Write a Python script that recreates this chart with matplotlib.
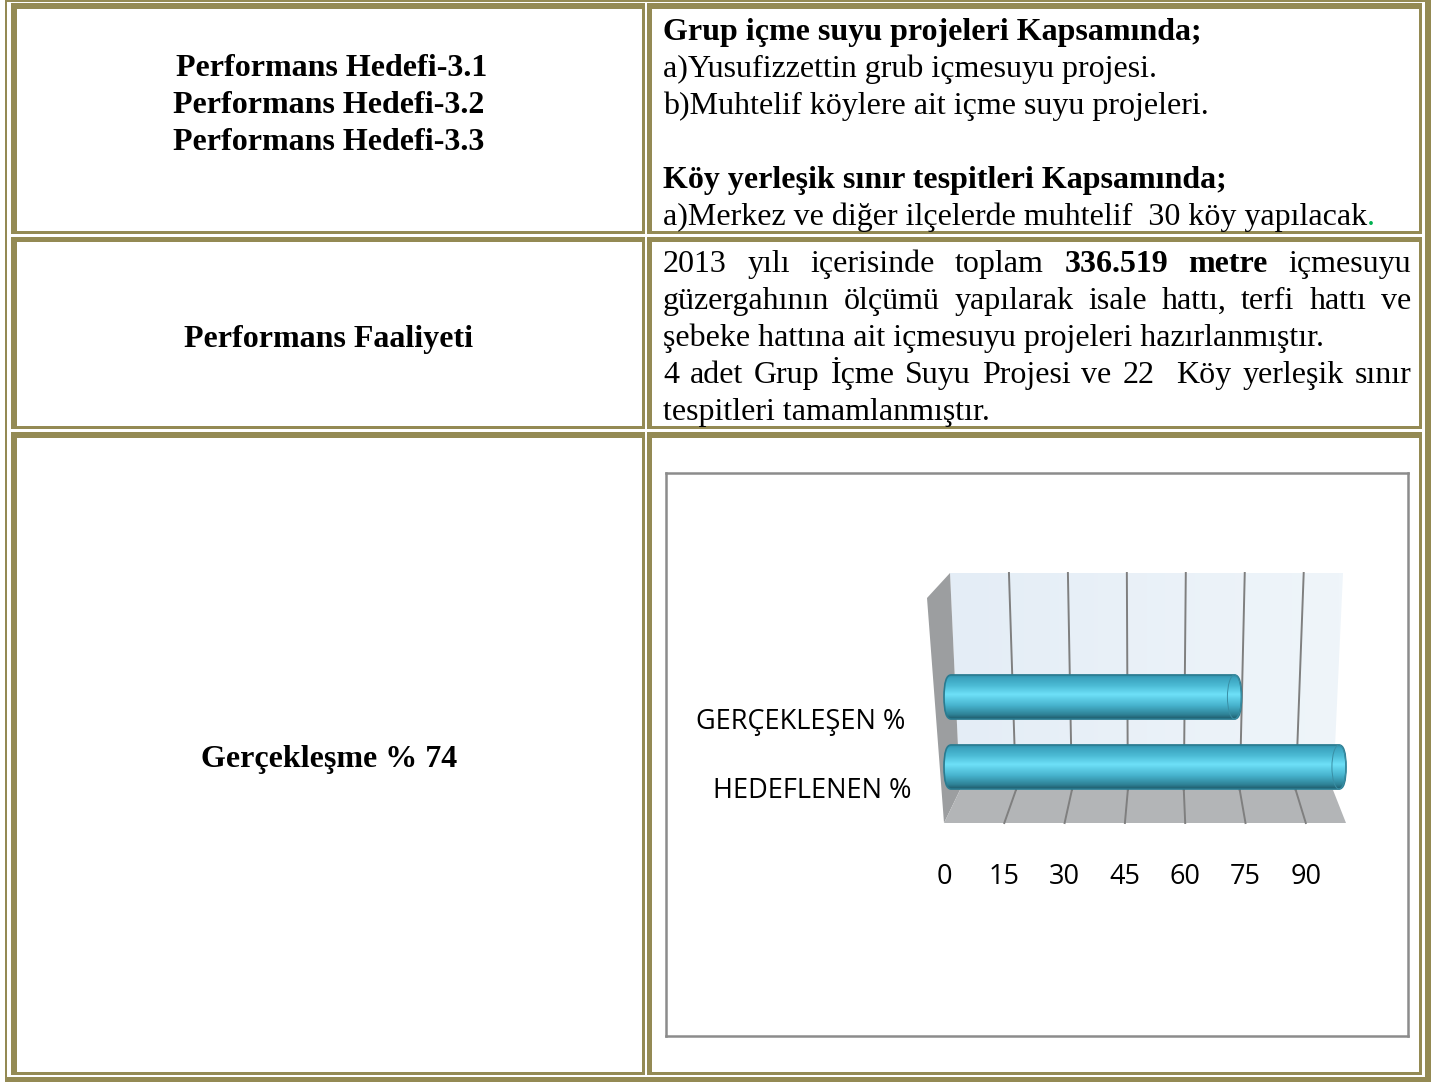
import matplotlib
matplotlib.use("Agg")
import matplotlib.pyplot as plt
import numpy as np
from matplotlib.patches import Rectangle, Polygon, FancyBboxPatch, Ellipse
from matplotlib.colors import LinearSegmentedColormap

# chart data
categories = ["HEDEFLENEN %", "GERÇEKLEŞEN %"]
values = [100, 74]
x_ticks = [0, 15, 30, 45, 60, 75, 90]
x_max = 100

# table text
goal_labels = ["Performans Hedefi-3.1", "Performans Hedefi-3.2", "Performans Hedefi-3.3"]
activity_label = "Performans Faaliyeti"
result_label = "Gerçekleşme % 74"

scope_lines = [
    ("Grup içme suyu projeleri Kapsamında;", "bold"),
    ("a)Yusufizzettin grub içmesuyu projesi.", "normal"),
    ("b)Muhtelif köylere ait içme suyu projeleri.", "normal"),
    ("", "normal"),
    ("Köy yerleşik sınır tespitleri Kapsamında;", "bold"),
    ("a)Merkez ve diğer ilçelerde muhtelif  30 köy yapılacak", "normal"),
]
# words prefixed with * are bold, second item = justified
activity_lines = [
    (["2013", "yılı", "içerisinde", "toplam", "*336.519", "*metre", "içmesuyu"], True),
    (["güzergahının", "ölçümü", "yapılarak", "isale", "hattı,", "terfi", "hattı", "ve"], True),
    (["şebeke hattına ait içmesuyu projeleri hazırlanmıştır."], False),
    (["4", "adet", "Grup", "İçme", "Suyu", "Projesi", "ve", "22", "", "Köy", "yerleşik", "sınır"], True),
    (["tespitleri tamamlanmıştır."], False),
]

W, H = 1437, 1082
OLIVE = "#948A54"
SERIF = "Liberation Serif"
FS = 23

fig = plt.figure(figsize=(W / 100, H / 100), dpi=100)
tab = fig.add_axes([0, 0, 1, 1])
tab.set_xlim(0, W)
tab.set_ylim(H, 0)
tab.axis("off")


def band(x0, x1, y0, y1, color=OLIVE, z=1):
    tab.add_patch(Rectangle((x0, y0), x1 - x0, y1 - y0, facecolor=color,
                           edgecolor="none", zorder=z))


# double borders of the table
for x0, x1, y0, y1 in [(5, 7, 0, 1082), (11, 17, 3, 1075), (642, 645, 3, 1075),
                       (647, 652, 3, 1075), (1419, 1422, 3, 1075), (1425, 1431, 0, 1082)]:
    band(x0, x1, y0, y1)
for y0, y1 in [(0, 1.5), (3, 9), (231, 234), (236.5, 242), (426, 429), (432, 438),
               (1072, 1075), (1077, 1082)]:
    band(5, 1431, y0, y1)
for x0, x1 in [(7, 11), (645, 647), (1422, 1425)]:
    band(x0, x1, 1.5, 1077, "white", 2)
for y0, y1 in [(1.5, 3), (234, 236.5), (429, 432), (1075, 1077)]:
    band(7, 1425, y0, y1, "white", 2)

r = fig.canvas.get_renderer()

# left column
goal_x = [332, 329, 329]
for i, s in enumerate(goal_labels):
    tab.text(goal_x[i], 76 + 37 * i, s, ha="center", va="baseline", fontsize=FS,
             fontweight="bold", family=SERIF)
tab.text(329, 347, activity_label, ha="center", va="baseline", fontsize=FS,
         fontweight="bold", family=SERIF)
tab.text(329, 767, result_label, ha="center", va="baseline", fontsize=FS,
         fontweight="bold", family=SERIF)

# right column, first row
for i, (s, wt) in enumerate(scope_lines):
    t = tab.text(663, 40 + 37 * i, s, ha="left", va="baseline", fontsize=FS,
                 fontweight=wt, family=SERIF)
bb = t.get_window_extent(renderer=r)
tab.text(bb.x1, 40 + 37 * 5, ".", ha="left", va="baseline", fontsize=FS,
         family=SERIF, color="#00B050")

# right column, second row (justified)
X0, X1 = 663, 1411
for i, (words, just) in enumerate(activity_lines):
    y = 272 + 36.9 * i
    if not just:
        tab.text(X0, y, words[0], ha="left", va="baseline", fontsize=FS, family=SERIF)
        continue
    items = []
    for w in words:
        bold = w.startswith("*")
        txt = w.lstrip("*")
        t = tab.text(0, y, txt, ha="left", va="baseline", fontsize=FS, family=SERIF,
                     fontweight="bold" if bold else "normal")
        wd = t.get_window_extent(renderer=r).width if txt else 0
        items.append((t, wd))
    gap = (X1 - X0 - sum(wd for _, wd in items)) / (len(items) - 1)
    x = X0
    for t, wd in items:
        t.set_x(x)
        x += wd + gap

# ---- chart ----
PX0, XS, PY0, YS = 944, 4.02, 767, 70
ax = fig.add_axes([666 / W, 1 - 1036 / H, (1407.5 - 666) / W, (1036 - 473) / H])
ax.set_facecolor("white")


def P(px, py):
    return ((px - PX0) / XS, (PY0 - py) / YS)


def back_top(v):
    return P(950 + 3.93 * v, 573)


def back_bot(v):
    return P(960 + 3.73 * v, 790)


def front(v):
    return P(944 + 4.02 * v, 823)


wall = Polygon([back_top(0), back_top(x_max), back_bot(x_max), back_bot(0)],
               closed=True, facecolor="none", edgecolor="none")
ax.add_patch(wall)
wall_cmap = LinearSegmentedColormap.from_list("wall", ["#E4EDF6", "#EFF5FA"])
wx = [back_top(0)[0], back_top(x_max)[0]]
wy = [back_bot(0)[1], back_top(0)[1]]
im = ax.imshow(np.linspace(0, 1, 64).reshape(1, -1), extent=(wx[0], wx[1], wy[0], wy[1]),
               aspect="auto", cmap=wall_cmap, zorder=1, interpolation="bilinear")
im.set_clip_path(wall)

ax.add_patch(Polygon([P(927, 598), back_top(0), back_bot(0), front(0)], closed=True,
                     facecolor="#9C9EA0", edgecolor="none", zorder=2))
ax.add_patch(Polygon([back_bot(0), back_bot(x_max), front(x_max), front(0)], closed=True,
                     facecolor="#B3B5B7", edgecolor="none", zorder=2))

for v in x_ticks[1:]:
    a, b, c = back_top(v), back_bot(v), front(v)
    ax.plot([a[0], b[0]], [a[1], b[1]], color="#7F7F7F", lw=1.4, zorder=3)
    ax.plot([b[0], c[0]], [b[1], c[1]], color="#7F7F7F", lw=1.4, zorder=3)

bar_cmap = LinearSegmentedColormap.from_list(
    "bar", [(0.0, "#1F5A6A"), (0.1, "#2F8398"), (0.3, "#47B3CD"), (0.55, "#6EE0F8"),
            (0.75, "#4BBAD4"), (0.92, "#3BA2BE"), (1.0, "#2A86A0")])
grad = np.linspace(0, 1, 128).reshape(-1, 1)

ypos = np.arange(len(categories))
bars = ax.barh(ypos, values, height=0.63, left=0, color="none", edgecolor="none")
for bar in bars:
    x, y, w, h = bar.get_x(), bar.get_y(), bar.get_width(), bar.get_height()
    rx = 1.75
    patch = FancyBboxPatch((x, y), w, h, boxstyle=f"round,pad=0,rounding_size={rx}",
                           mutation_aspect=(h / 2) / rx, facecolor="none",
                           edgecolor="#2A7B90", lw=1.2, zorder=5)
    ax.add_patch(patch)
    bim = ax.imshow(grad, extent=(x, x + w, y, y + h), origin="lower", aspect="auto",
                    cmap=bar_cmap, zorder=4, interpolation="bilinear")
    bim.set_clip_path(patch)
    ax.add_patch(Ellipse((x + w - rx, y + h / 2), 2 * rx, h, fill=False,
                         edgecolor="#3A8FA5", lw=0.7, zorder=6))

label_x = [-8.2, -9.7]
for i, cat in enumerate(categories):
    ax.text(label_x[i], i - 0.45, cat, ha="right", va="baseline", fontsize=19.5,
            family="Open Sans", color="black")
tick_y = (PY0 - 884.5) / YS
for v in x_ticks:
    ax.text(v, tick_y, str(v), ha="center", va="baseline", fontsize=19.5,
            family="Open Sans", color="black")

ax.set_xlim((666 - PX0) / XS, (1407.5 - PX0) / XS)
ax.set_ylim((PY0 - 1036) / YS, (PY0 - 473) / YS)
ax.set_xticks([])
ax.set_yticks([])
for s in ax.spines.values():
    s.set_color("#8C8C8C")
    s.set_linewidth(1.8)

fig.savefig("out.png", dpi=100)
